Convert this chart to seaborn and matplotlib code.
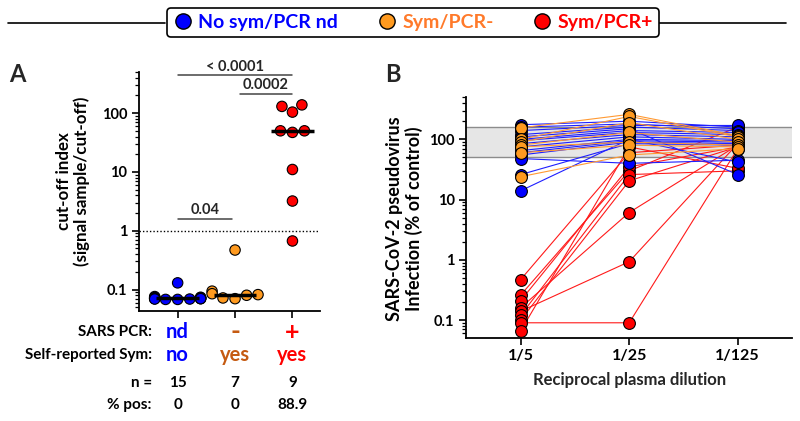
import numpy as np
import pandas as pd
import matplotlib
matplotlib.use("Agg")
import matplotlib.pyplot as plt
import seaborn as sns
from matplotlib.lines import Line2D
from matplotlib.ticker import FixedLocator, FixedFormatter, LogLocator, NullFormatter

sns.set_theme(style="ticks")
plt.rcParams["font.family"] = ["Lato", "DejaVu Sans"]
plt.rcParams["font.weight"] = "bold"
plt.rcParams["axes.labelweight"] = "bold"

# ---------------- data ----------------
groups = ["No sym/PCR nd", "Sym/PCR-", "Sym/PCR+"]
point_colors = ["#0000FF", "#FF9A1F", "#FF0000"]
line_colors = ["#1F1FFF", "#FF9A33", "#FF1A1A"]
legend_text_colors = ["#0000FF", "#FF7A2A", "#FF0000"]

# Panel A: cut-off index
a_nd = [0.13, 0.076, 0.074, 0.073, 0.072, 0.072, 0.071, 0.071, 0.070, 0.070,
        0.070, 0.069, 0.069, 0.068, 0.068]
a_neg = [0.47, 0.094, 0.085, 0.082, 0.080, 0.072, 0.070]
a_pos = [138, 130, 104, 50, 50, 47, 11, 3.2, 0.67]

pcr_labels = ["nd", "-", "+"]
sym_labels = ["no", "yes", "yes"]
table_colors = ["#0000FF", "#C55A11", "#FF0000"]
n_values = ["15", "7", "9"]
pos_values = ["0", "0", "88.9"]

# Panel B: infection (% of control) at 1/5, 1/25, 1/125
dilutions = ["1/5", "1/25", "1/125"]
b_nd_5 = [175, 160, 140, 120, 110, 100, 95, 85, 75, 65, 60, 55, 48, 26, 14]
b_nd_25 = [200, 180, 170, 160, 150, 140, 130, 120, 110, 100, 95, 90, 40, 85, 100]
b_nd_125 = [160, 150, 170, 140, 26, 130, 120, 110, 100, 95, 90, 85, 45, 80, 42]
b_neg_5 = [155, 100, 90, 80, 75, 60, 24]
b_neg_25 = [260, 240, 190, 130, 90, 80, 55]
b_neg_125 = [115, 110, 100, 90, 80, 75, 70]
b_pos_5 = [0.47, 0.26, 0.21, 0.16, 0.14, 0.12, 0.10, 0.09, 0.066]
b_pos_25 = [60, 30, 35, 6.1, 0.93, 26, 20.5, 0.09, 75]
b_pos_125 = [80, 160, 75, 80, 85, 30, 75, 70, 33]

band_low, band_high = 50, 160

# ---------------- tables ----------------
dfA = pd.DataFrame({
    "group": [groups[0]] * len(a_nd) + [groups[1]] * len(a_neg) + [groups[2]] * len(a_pos),
    "value": a_nd + a_neg + a_pos,
})

rows = []
sid = 0
for g, series in zip(groups, [(b_nd_5, b_nd_25, b_nd_125),
                              (b_neg_5, b_neg_25, b_neg_125),
                              (b_pos_5, b_pos_25, b_pos_125)]):
    for i in range(len(series[0])):
        for d in range(3):
            rows.append({"subject": sid, "group": g, "dil": d, "value": series[d][i]})
        sid += 1
dfB = pd.DataFrame(rows)

# ---------------- figure ----------------
fig = plt.figure(figsize=(8, 4.21), dpi=100)
axA = fig.add_axes([0.174, 0.261, 0.226, 0.568])
axB = fig.add_axes([0.583, 0.198, 0.407, 0.571])

# ---- Panel A ----
axA.set_yscale("log")
axA.set_ylim(0.043, 500)
sns.boxplot(data=dfA, x="group", y="value", order=groups, ax=axA,
            showbox=False, showcaps=False, showfliers=False, whis=0, width=0.74,
            whiskerprops={"visible": False},
            medianprops={"color": "black", "linewidth": 2.5, "zorder": 5})
sns.swarmplot(data=dfA, x="group", y="value", order=groups, hue="group",
              hue_order=groups, palette=point_colors, legend=False, size=7.5,
              edgecolor="black", linewidth=0.8, ax=axA, zorder=3, warn_thresh=1.0)
axA.set_xlim(-0.67, 2.48)
axA.set_ylim(0.043, 500)
axA.axhline(1, color="black", lw=1, ls=(0, (1, 1.5)), zorder=1)

axA.yaxis.set_major_locator(FixedLocator([0.1, 1, 10, 100]))
axA.yaxis.set_major_formatter(FixedFormatter(["0.1", "1", "10", "100"]))
axA.yaxis.set_minor_locator(LogLocator(base=10, subs=np.arange(2, 10), numticks=20))
axA.yaxis.set_minor_formatter(NullFormatter())
axA.set_xticks([0, 1, 2])
axA.set_xticklabels(["", "", ""])
axA.set_xlabel("")
axA.set_ylabel("")
for ax in (axA, axB):
    ax.tick_params(axis="both", which="major", length=5, width=1.2, labelsize=10.5,
                   color="black", labelcolor="black")
    ax.tick_params(axis="y", which="minor", length=3, width=0.9, color="black")
    for s in ("left", "bottom"):
        ax.spines[s].set_linewidth(1.3)
        ax.spines[s].set_color("black")
    for s in ("top", "right"):
        ax.spines[s].set_visible(False)
    for lab in ax.get_yticklabels() + ax.get_xticklabels():
        lab.set_fontweight("bold")

axA.text(-0.365, 0.544, "cut-off index\n(signal sample/cut-off)", transform=axA.transAxes,
         rotation=90, ha="center", va="center", fontsize=12.2, fontweight="bold",
         linespacing=1.1, color="black")

# significance brackets
brk = "#444444"
axA.plot([0, 2], [440, 440], color=brk, lw=1.1, clip_on=False)
axA.text(1.0, 470, "< 0.0001", ha="center", va="bottom", fontsize=10.5, fontweight="bold")
axA.plot([1.08, 2], [214, 214], color=brk, lw=1.1, clip_on=False)
axA.text(1.54, 228, "0.0002", ha="center", va="bottom", fontsize=10.5, fontweight="bold")
axA.plot([0, 0.95], [1.56, 1.56], color=brk, lw=1.1, clip_on=False)
axA.text(0.475, 1.68, "0.04", ha="center", va="bottom", fontsize=10.5, fontweight="bold")

# table under panel A
tr = axA.get_xaxis_transform()
row_y = [-0.088, -0.184, -0.301, -0.393]
row_names = ["SARS PCR:", "Self-reported Sym:", "n =", "% pos:"]
for y, name in zip(row_y, row_names):
    axA.text(-0.45, y, name, transform=tr, ha="right", va="center", fontsize=11,
             fontweight="bold", color="black")
pcr_sizes = [14.5, 19, 18]
for i in range(3):
    axA.text(i, row_y[0], pcr_labels[i], transform=tr, ha="center", va="center",
             fontsize=pcr_sizes[i], fontweight="bold", color=table_colors[i])
    axA.text(i, row_y[1], sym_labels[i], transform=tr, ha="center", va="center",
             fontsize=14.5, fontweight="bold", color=table_colors[i])
    axA.text(i, row_y[2], n_values[i], transform=tr, ha="center", va="center",
             fontsize=11, fontweight="bold", color="black")
    axA.text(i, row_y[3], pos_values[i], transform=tr, ha="center", va="center",
             fontsize=11, fontweight="bold", color="black")

# ---- Panel B ----
axB.set_yscale("log")
axB.axhspan(band_low, band_high, facecolor="#E6E6E6", edgecolor="none", zorder=0)
axB.axhline(band_low, color="#8C8C8C", lw=1, zorder=0.5)
axB.axhline(band_high, color="#8C8C8C", lw=1, zorder=0.5)
draw_order = [groups[2], groups[0], groups[1]]
for k, g in enumerate(draw_order):
    gi = groups.index(g)
    sub = dfB[dfB["group"] == g]
    sns.lineplot(data=sub, x="dil", y="value", units="subject", estimator=None,
                 color=line_colors[gi], lw=0.8, ax=axB, legend=False, zorder=1 + k * 0.1)
for k, g in enumerate(draw_order):
    gi = groups.index(g)
    sub = dfB[dfB["group"] == g]
    sns.scatterplot(data=sub, x="dil", y="value", color=point_colors[gi], s=72,
                    edgecolor="black", linewidth=0.8, ax=axB, legend=False, zorder=3 + k)
axB.set_xlim(-0.5, 2.5)
axB.set_ylim(0.051, 500)
axB.yaxis.set_major_locator(FixedLocator([0.1, 1, 10, 100]))
axB.yaxis.set_major_formatter(FixedFormatter(["0.1", "1", "10", "100"]))
axB.yaxis.set_minor_locator(LogLocator(base=10, subs=np.arange(2, 10), numticks=20))
axB.yaxis.set_minor_formatter(NullFormatter())
axB.set_xticks([0, 1, 2])
axB.set_xticklabels(dilutions, fontsize=11.5, fontweight="bold")
axB.set_xlabel("Reciprocal plasma dilution", fontsize=12, fontweight="bold", labelpad=6)
axB.set_ylabel("")
axB.text(-0.19, 0.496, "SARS-CoV-2 pseudovirus\nInfection (% of control)",
         transform=axB.transAxes, rotation=90, ha="center", va="center", fontsize=13,
         fontweight="bold", linespacing=1.1, color="black")
for lab in axB.get_xticklabels() + axB.get_yticklabels():
    lab.set_fontweight("bold")

# panel letters
fig.text(0.022, 0.822, "A", fontsize=17, fontweight="bold", ha="center", va="center")
fig.text(0.491, 0.824, "B", fontsize=17, fontweight="bold", ha="center", va="center")

# ---- legend ----
handles = [Line2D([0], [0], marker="o", ls="none", markersize=11,
                  markerfacecolor=c, markeredgecolor="black", markeredgewidth=1)
           for c in point_colors]
leg = fig.legend(handles, groups, loc="center", bbox_to_anchor=(0.5165, 0.9466), ncol=3,
                 frameon=True, fancybox=True, edgecolor="black", framealpha=1,
                 handletextpad=0.3, columnspacing=2.0, borderpad=0.3,
                 handlelength=1.0, prop={"weight": "bold", "size": 14})
leg.get_frame().set_linewidth(1.2)
for t, c in zip(leg.get_texts(), legend_text_colors):
    t.set_color(c)
fig.add_artist(Line2D([0.01, 0.206], [0.946, 0.946], color="black", lw=1.2))
fig.add_artist(Line2D([0.808, 0.982], [0.946, 0.946], color="black", lw=1.2))

fig.savefig("out.png", dpi=100)
